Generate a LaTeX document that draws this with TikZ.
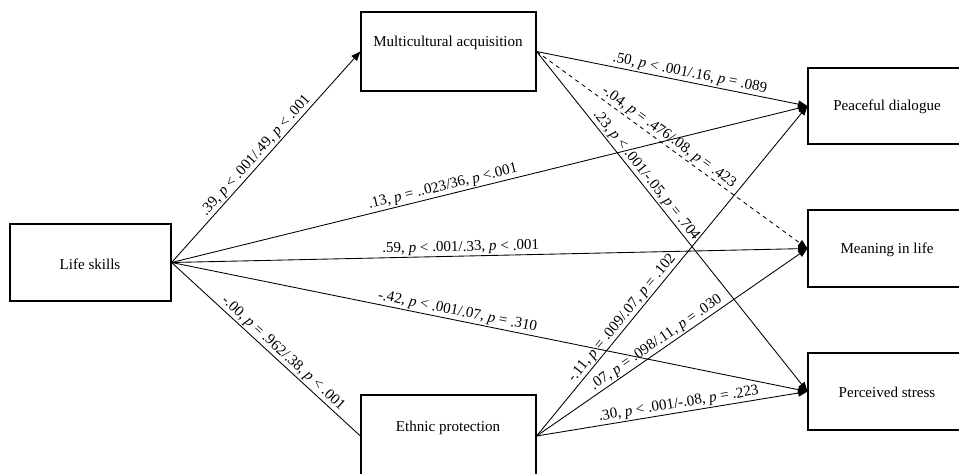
\documentclass[tikz,border=0pt]{standalone}
\usepackage{fontspec}
\setmainfont{Liberation Serif}
\usetikzlibrary{arrows.meta,fit}
\begin{document}
\begin{tikzpicture}[x=0.75pt,y=-0.75pt,
 box/.style={draw,line width=0.9pt,inner sep=0pt},
 txt/.style={font=\fontsize{11.3}{13}\selectfont, inner sep=0pt},
 arr/.style={line width=0.65pt,-{Triangle[length=7pt,width=5.5pt]}},
 ln/.style={line width=0.65pt},
 lab/.style={font=\fontsize{11.3}{13}\selectfont, sloped, above, inner sep=1pt}]
\clip (0,0) rectangle (959,474);
% boxes
\node[box, fit={(10,224)(171,301)}] (ls) {};
\node[box, fit={(361,12)(536,91)}] (ma) {};
\node[box, fit={(361,395)(536,477)}] (ep) {};
\node[box, fit={(808,68)(966,144)}] (pd) {};
\node[box, fit={(808,210)(966,287)}] (mil) {};
\node[box, fit={(808,353)(966,430)}] (ps) {};
% box texts
\node[txt] (lst) at (90,264) {Life skills};
\node[txt] (mat) at (448,43) {Multicultural acquisition};
\node[txt] (ept) at (448,428) {Ethnic protection};
\node[txt] (pdt) at (887,107) {Peaceful dialogue};
\node[txt] (milt) at (887,250) {Meaning in life};
\node[txt] (pst) at (887,392) {Perceived stress};
% connectors from Life skills
\draw[arr] (ls.east) -- node[lab,pos=0.48]{.39, \textit{p} < .001/.49, \textit{p} < .001} (ma.west);
\draw[arr] (ls.east) -- node[lab,pos=0.43]{.13, \textit{p} = ..023/36, \textit{p} <.001} (pd.west);
\draw[arr] (ls.east) -- node[lab,pos=0.455]{.59, \textit{p} < .001/.33, \textit{p} < .001} (mil.west);
\draw[arr] (ls.east) -- node[lab,pos=0.447]{-.42, \textit{p} < .001/.07, \textit{p} = .310} (ps.west);
\draw[ln] (ls.east) -- node[lab,pos=0.56]{-.00, \textit{p} = .962/.38, \textit{p} < .001} (ep.west);
% from Multicultural acquisition
\draw[arr] (ma.east) -- node[lab,pos=0.56]{.50, \textit{p} < .001/.16, \textit{p} = .089} (pd.west);
\draw[arr,dashed] (ma.east) -- node[lab,pos=0.47]{-.04, \textit{p} = .476/.08, \textit{p} = .423} (mil.west);
\draw[arr] (ma.east) -- node[lab,pos=0.38]{.23, \textit{p} < .001/-.05, \textit{p} = .704} (ps.west);
% from Ethnic protection
\draw[arr] (ep.east) -- node[lab,pos=0.34]{-.11, \textit{p} = .009/.07, \textit{p} = .102} (pd.west);
\draw[arr] (ep.east) -- node[lab,pos=0.46]{.07, \textit{p} = .098/.11, \textit{p} = .030} (mil.west);
\draw[arr] (ep.east) -- node[lab,pos=0.53]{.30, \textit{p} < .001/-.08, \textit{p} = .223} (ps.west);
\end{tikzpicture}
\end{document}
